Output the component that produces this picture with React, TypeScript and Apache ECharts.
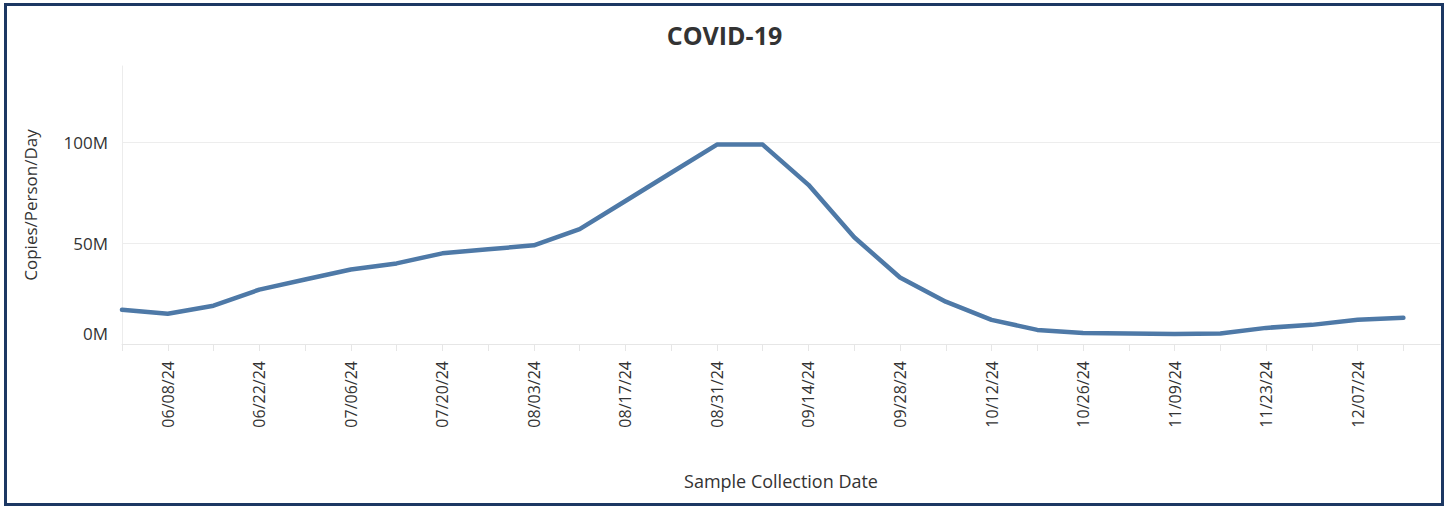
import React, { useEffect, useRef } from "react";
import * as echarts from "echarts";

const dates = [
  "06/01/24", "06/08/24", "06/15/24", "06/22/24", "06/29/24", "07/06/24", "07/13/24",
  "07/20/24", "07/27/24", "08/03/24", "08/10/24", "08/17/24", "08/24/24", "08/31/24",
  "09/07/24", "09/14/24", "09/21/24", "09/28/24", "10/05/24", "10/12/24", "10/19/24",
  "10/26/24", "11/02/24", "11/09/24", "11/16/24", "11/23/24", "11/30/24", "12/07/24",
  "12/14/24",
];

// Copies/Person/Day, in millions
const valuesM = [
  17, 15, 19, 27, 32, 37, 40,
  45, 47, 49, 57, 71, 85, 99,
  99, 79, 53, 33, 21, 12, 7,
  5.5, 5.2, 5, 5.2, 8, 9.5, 12,
  13,
];

const yTicksM = [0, 50, 100];

export default function App() {
  const ref = useRef<HTMLDivElement>(null);
  useEffect(() => {
    if (!ref.current) return;
    const chart = echarts.init(ref.current, null, { renderer: "svg" });
    const font = "'Open Sans', 'Noto Sans', sans-serif";
    chart.setOption({
      animation: false,
      backgroundColor: "#ffffff",
      title: {
        text: "COVID-19",
        left: "center",
        top: 17,
        textStyle: { fontFamily: font, fontWeight: "bold", fontSize: 25, color: "#333333" },
      },
      grid: { left: 122, right: 9, top: 66, bottom: 162, containLabel: false },
      xAxis: {
        type: "value",
        min: 0,
        max: 28.8,
        interval: 1,
        axisLine: { show: true, lineStyle: { color: "#e6e6e6", width: 1 } },
        axisTick: { show: true, length: 7, lineStyle: { color: "#e6e6e6" } },
        splitLine: { show: false },
        axisLabel: {
          rotate: 90,
          formatter: (v: number) => {
            const i = Math.round(v);
            return Math.abs(v - i) < 1e-6 && i % 2 === 1 && dates[i] ? dates[i] : "";
          },
          showMinLabel: true,
          showMaxLabel: false,
          margin: 17,
          fontFamily: font,
          fontSize: 16,
          color: "#333333",
        },
        name: "Sample Collection Date",
        nameLocation: "middle",
        nameGap: 128,
        nameTextStyle: { fontFamily: font, fontSize: 18, color: "#333333" },
      },
      yAxis: {
        type: "value",
        min: 0,
        max: 138e6,
        interval: 50e6,
        axisLine: { show: true, lineStyle: { color: "#ececec" } },
        axisTick: { show: false },
        splitLine: {
          show: true,
          lineStyle: { color: ["#ededed", "#ededed", "#ededed", "rgba(0,0,0,0)"], width: 1 },
        },
        axisLabel: {
          formatter: (v: number) => {
            const m = Math.round(v / 1e6);
            if (!yTicksM.includes(m)) return "";
            return m === 0 ? "{z|0M}" : m + "M";
          },
          rich: {
            z: { fontFamily: font, fontSize: 17, color: "#333333", padding: [0, 0, 22, 0] },
          },
          margin: 14,
          fontFamily: font,
          fontSize: 17,
          color: "#333333",
          verticalAlign: "middle",
        },
        name: "Copies/Person/Day",
        nameLocation: "middle",
        nameGap: 83,
        nameTextStyle: { fontFamily: font, fontSize: 17, color: "#333333" },
      },
      series: [
        {
          type: "line",
          data: valuesM.map((v, i) => [i, v * 1e6]),
          showSymbol: false,
          symbol: "none",
          lineStyle: { color: "#4e79a7", width: 4.5, cap: "round", join: "round" },
          itemStyle: { color: "#4e79a7" },
        },
      ],
    });
    return () => chart.dispose();
  }, []);

  return (
    <div
      style={{
        position: "absolute",
        left: 0,
        top: 0,
        width: 1449,
        height: 506,
        background: "#ffffff",
      }}
    >
      <div ref={ref} style={{ position: "absolute", left: 0, top: 0, width: 1449, height: 506 }} />
      <div
        style={{
          position: "absolute",
          left: 4,
          top: 3,
          width: 1440,
          height: 503,
          border: "3px solid #1c3863",
          boxSizing: "border-box",
          pointerEvents: "none",
        }}
      />
    </div>
  );
}
